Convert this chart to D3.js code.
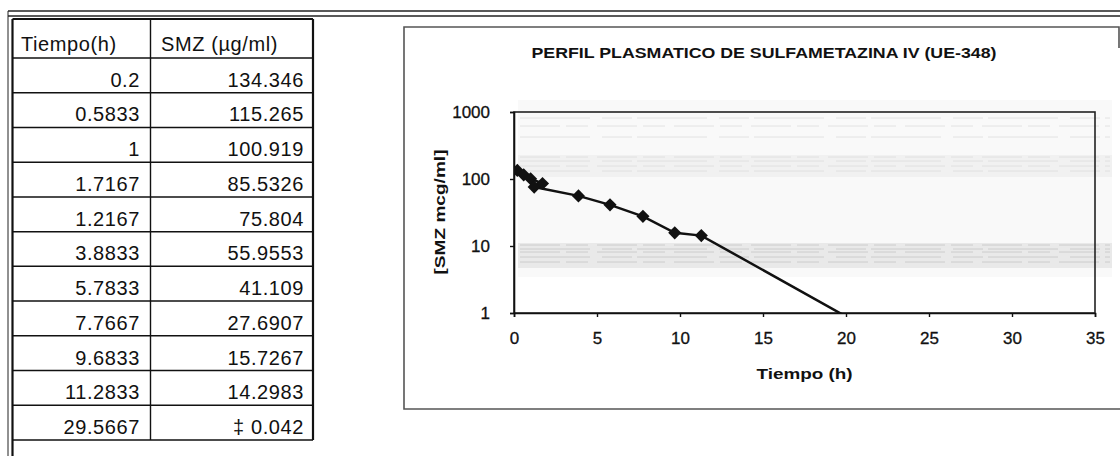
<!DOCTYPE html>
<html>
<head>
<meta charset="utf-8">
<script src="https://cdn.jsdelivr.net/npm/d3@7"></script>
<style>
    body { margin: 0; background: #fff; }
    text { font-family: "Liberation Sans", Arial, sans-serif; }
</style>
</head>
<body>
<div id="page" style="width:1120px;height:456px;"></div>
<script>

// table columns + values (also the plotted points)
let colHeaders = ["Tiempo(h)", "SMZ (\u00b5g/ml)"];
let tiempo = [0.2, 0.5833, 1, 1.7167, 1.2167, 3.8833, 5.7833, 7.7667, 9.6833, 11.2833, 29.5667];
let smz = [134.346, 115.265, 100.919, 85.5326, 75.804, 55.9553, 41.109, 27.6907, 15.7267, 14.2983, 0.042];

let xTicks = [0, 5, 10, 15, 20, 25, 30, 35];
let yTicks = [1, 10, 100, 1000];

let chartTitle = "PERFIL PLASMATICO DE SULFAMETAZINA IV (UE-348)";
let xTitle = "Tiempo (h)";
let yTitle = "[SMZ mcg/ml]";


class Perfil {
    constructor(parentElement) {
        this.parentElement = parentElement;
        this.initVis()
    }

    initVis() {
        let vis = this;

        vis.width = 1120;
        vis.height = 456;

        vis.svg = d3.select("#" + vis.parentElement).append("svg")
            .attr("width", vis.width)
            .attr("height", vis.height);

        // plot area of the chart
        vis.plot = {left: 514, right: 1095, top: 112, bottom: 313};

        vis.x = d3.scaleLinear().domain([0, 35]).range([vis.plot.left, vis.plot.right]);
        vis.y = d3.scaleLog().domain([1, 1000]).range([vis.plot.bottom, vis.plot.top]);

        vis.drawFrame()
        vis.drawTable()
        vis.drawChart()
    }

    drawFrame() {
        let vis = this;

        // double line across the top of the sheet
        [11, 16].forEach(yy => {
            vis.svg.append("line")
                .attr("x1", 8).attr("x2", vis.width)
                .attr("y1", yy).attr("y2", yy)
                .attr("stroke", "#222").attr("stroke-width", 1.6);
        });

        // double line down the left
        vis.svg.append("line")
            .attr("x1", 8).attr("x2", 8).attr("y1", 11).attr("y2", vis.height)
            .attr("stroke", "#222").attr("stroke-width", 1);
        vis.svg.append("line")
            .attr("x1", 12.5).attr("x2", 12.5).attr("y1", 19).attr("y2", vis.height)
            .attr("stroke", "#111").attr("stroke-width", 2.2);
    }

    drawTable() {
        let vis = this;

        let left = 12.5, mid = 150.5, right = 313;
        let headTop = 19, headBottom = 58, bottom = 440;
        let rowH = (bottom - headBottom) / tiempo.length;

        let t = vis.svg.append("g").attr("class", "table");

        // horizontal rules
        let ys = [headTop, headBottom].concat(tiempo.map((d, i) => headBottom + (i + 1) * rowH));
        t.selectAll(".hrule")
            .data(ys)
            .join("line")
            .attr("class", "hrule")
            .attr("x1", left).attr("x2", right)
            .attr("y1", d => d).attr("y2", d => d)
            .attr("stroke", "#111")
            .attr("stroke-width", (d, i) => i === 0 ? 2.2 : 1.5);

        // vertical rules
        t.append("line")
            .attr("x1", mid).attr("x2", mid).attr("y1", headTop).attr("y2", bottom)
            .attr("stroke", "#111").attr("stroke-width", 1.4);
        t.append("line")
            .attr("x1", right).attr("x2", right).attr("y1", headTop).attr("y2", bottom)
            .attr("stroke", "#111").attr("stroke-width", 2.2);

        // header
        t.selectAll(".head")
            .data(colHeaders)
            .join("text")
            .attr("class", "head")
            .attr("x", (d, i) => i === 0 ? 21 : 161)
            .attr("y", 51)
            .attr("font-size", "20px")
            .attr("letter-spacing", "0.6px")
            .attr("fill", "#111")
            .text(d => d);

        // values, right aligned
        let rows = t.selectAll(".row")
            .data(tiempo.map((d, i) => [d, smz[i]]))
            .join("g")
            .attr("class", "row")
            .attr("transform", (d, i) => `translate(0, ${headBottom + (i + 1) * rowH - 6})`);

        rows.append("text")
            .attr("x", 140)
            .attr("text-anchor", "end")
            .attr("font-size", "20px")
            .attr("letter-spacing", "0.6px")
            .attr("fill", "#111")
            .text(d => String(d[0]));

        rows.append("text")
            .attr("x", 304)
            .attr("text-anchor", "end")
            .attr("font-size", "20px")
            .attr("letter-spacing", "0.6px")
            .attr("fill", "#111")
            // the last value is flagged in the sheet
            .text((d, i) => (i === tiempo.length - 1 ? "\u2021 " : "") + String(d[1]));
    }

    drawChart() {
        let vis = this;
        let p = vis.plot;

        let g = vis.svg.append("g").attr("class", "chart");

        // chart box (right side mostly cut off in the scan)
        g.append("path")
            .attr("d", `M1119,48 V27 H404 V409 H1120`)
            .attr("fill", "none")
            .attr("stroke", "#555")
            .attr("stroke-width", 1.6);

        // faint scan noise behind the plot
        let noise = g.append("g").attr("class", "noise");
        noise.append("rect")
            .attr("x", 518).attr("y", 100).attr("width", 594).attr("height", 177)
            .attr("fill", "#f9f9f9");
        noise.append("rect")
            .attr("x", 518).attr("y", 155).attr("width", 594).attr("height", 22)
            .attr("fill", "#f1f1f1");
        noise.append("rect")
            .attr("x", 518).attr("y", 243).attr("width", 594).attr("height", 25)
            .attr("fill", "#e9e9e9");
        [118, 126, 137, 157, 161, 166, 171, 245, 249, 252, 257, 262].forEach((yy, i) => {
            noise.append("line")
                .attr("x1", 520).attr("x2", 1110).attr("y1", yy).attr("y2", yy)
                .attr("stroke", i > 6 ? "#c4c4c4" : "#dddddd")
                .attr("stroke-width", 0.8)
                .attr("stroke-dasharray", i % 2 ? "40 6 22 9" : "70 12 30 5");
        });

        vis.svg.append("defs").append("clipPath")
            .attr("id", "plotClip")
            .append("rect")
            .attr("x", p.left).attr("y", p.top - 6)
            .attr("width", p.right - p.left + 6).attr("height", p.bottom - p.top + 6);

        // plot border
        g.append("rect")
            .attr("x", p.left).attr("y", p.top)
            .attr("width", p.right - p.left).attr("height", p.bottom - p.top)
            .attr("fill", "none")
            .attr("stroke", "#222")
            .attr("stroke-width", 1.6);

        // axes
        let xAxis = g.append("g")
            .attr("transform", `translate(0, ${p.bottom})`)
            .call(d3.axisBottom(vis.x).tickValues(xTicks).tickSize(4).tickPadding(15).tickFormat(d3.format("d")));
        let yAxis = g.append("g")
            .attr("transform", `translate(${p.left}, 0)`)
            .call(d3.axisLeft(vis.y).tickValues(yTicks).tickSize(4).tickPadding(20).tickFormat(d3.format("d")));

        [xAxis, yAxis].forEach(a => {
            a.select(".domain").attr("stroke", "#111").attr("stroke-width", 1.6);
            a.selectAll(".tick line").attr("stroke", "#111").attr("stroke-width", 1.4);
            a.selectAll(".tick text")
                .attr("font-family", "'Liberation Sans', Arial, sans-serif")
                .attr("font-size", "17px")
                .attr("fill", "#111")
                .attr("stroke", "#111")
                .attr("stroke-width", 0.3);
        });

        // data line, last point falls below 1 so it is clipped
        let line = d3.line()
            .x((d, i) => vis.x(tiempo[i]))
            .y(d => vis.y(d));

        let data = g.append("g").attr("clip-path", "url(#plotClip)");

        data.append("path")
            .datum(smz)
            .attr("d", line)
            .attr("fill", "none")
            .attr("stroke", "#111")
            .attr("stroke-width", 2.5);

        data.selectAll(".pt")
            .data(smz)
            .join("path")
            .attr("class", "pt")
            .attr("d", d3.symbol().type(d3.symbolDiamond2).size(110))
            .attr("transform", (d, i) => `translate(${vis.x(tiempo[i])}, ${vis.y(d)})`)
            .attr("fill", "#111");

        // titles
        g.append("text")
            .attr("x", 764)
            .attr("y", 58)
            .attr("text-anchor", "middle")
            .attr("font-size", "14px")
            .attr("font-weight", "bold")
            .attr("textLength", 465)
            .attr("lengthAdjust", "spacingAndGlyphs")
            .attr("fill", "#111")
            .text(chartTitle);

        g.append("text")
            .attr("x", (p.left + p.right) / 2)
            .attr("y", 379)
            .attr("text-anchor", "middle")
            .attr("font-size", "14px")
            .attr("font-weight", "bold")
            .attr("textLength", 96)
            .attr("lengthAdjust", "spacingAndGlyphs")
            .attr("fill", "#111")
            .text(xTitle);

        g.append("text")
            .attr("transform", "translate(445, 212) rotate(-90)")
            .attr("text-anchor", "middle")
            .attr("font-size", "14px")
            .attr("font-weight", "bold")
            .attr("textLength", 125)
            .attr("lengthAdjust", "spacingAndGlyphs")
            .attr("fill", "#111")
            .text(yTitle);
    }
}

new Perfil("page");

</script>
</body>
</html>
